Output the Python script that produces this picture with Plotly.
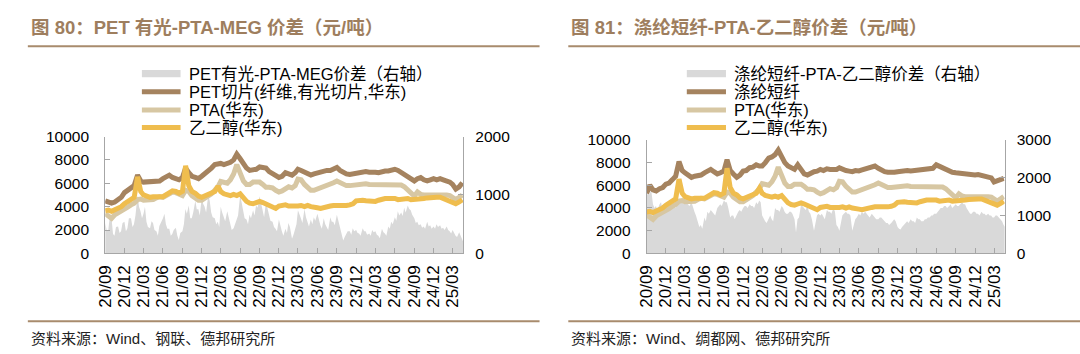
import pandas as pd
import plotly.graph_objects as go

W, H = 1080, 354

# ---------------- categories ----------------
month_anchor = pd.date_range("2020-09-25", periods=56, freq=pd.DateOffset(months=1))
# price lines: two readings per month
dates = []
for d in month_anchor:
    dates.append(d)
    dates.append(d + pd.Timedelta(days=15))
# spreads: four readings per month
dates_w = []
for d in month_anchor:
    for off in (0, 7, 14, 21):
        dates_w.append(d + pd.Timedelta(days=off))

tick_vals = list(pd.date_range("2020-09-25", periods=19, freq=pd.DateOffset(months=3)))
tick_labels = ["20/09", "20/12", "21/03", "21/06", "21/09", "21/12", "22/03", "22/06", "22/09",
               "22/12", "23/03", "23/06", "23/09", "23/12", "24/03", "24/06", "24/09", "24/12", "25/03"]

# ---------------- series values (yuan/ton) ----------------
pet_chip = [4500, 4400, 4300, 4400, 4600, 4800, 5200, 5400, 5600, 5800, 6700, 6200,
            6100, 6100, 6150, 6100, 6150, 6200, 6400, 6600, 6700, 6500, 6350, 6300,
            6500, 7300, 6900, 6600, 6500, 6400, 6600, 6800, 7100, 7300, 7600, 7700,
            7700, 7600, 7700, 7800, 8000, 8500, 8100, 7600, 7300, 7100, 7100, 7200,
            7400, 7300, 7300, 7000, 6800, 6600, 6500, 6600, 6900, 6800, 6700, 6900,
            7200, 7100, 7000, 6900, 6700, 6800, 6900, 6950, 7000, 7100, 7100, 7200,
            7350, 7100, 6900, 6800, 6750, 6800, 6900, 7000, 7050, 7000, 6950, 7000,
            6950, 6900, 7000, 7050, 7050, 7100, 7200, 7100, 6900, 6700, 6600, 6300,
            6200, 6400, 6500, 6300, 6200, 6300, 6400, 6300, 6400, 6300, 6200, 6100,
            5900, 5500, 5700, 6050]

psf = [5300, 6000, 5600, 5500, 5700, 5800, 6100, 6200, 6500, 6800, 8100, 7300,
       7100, 6900, 6700, 6800, 6850, 6900, 7100, 7200, 7400, 7200, 7000, 7100,
       7250, 8250, 7300, 7000, 6700, 6900, 7250, 7300, 7550, 7600, 7800, 7700,
       7700, 8000, 8400, 8500, 8700, 9100, 8400, 8000, 7700, 7500, 7400, 7800,
       7400, 7000, 6900, 7100, 7200, 7250, 7400, 7300, 7450, 7400, 7350, 7400,
       7540, 7400, 7300, 7250, 7200, 7300, 7260, 7350, 7450, 7550, 7600, 7700,
       7500, 7300, 7200, 7150, 7100, 7150, 7200, 7250, 7250, 7300, 7260, 7300,
       7300, 7350, 7350, 7350, 7400, 7500, 7800, 7650, 7500, 7350, 7250, 7150,
       7100, 7050, 7000, 6950, 6900, 6850, 6900, 6950, 6850, 6800, 6700, 6650,
       6300, 6400, 6450, 6600]

pta = [3400, 3200, 3000, 3300, 3450, 3550, 3750, 3950, 4150, 4300, 4600, 4650,
       4550, 4550, 4500, 4600, 4750, 4850, 4800, 4950, 5150, 5250, 5200, 5050,
       4950, 5400, 5300, 4950, 4700, 4550, 4550, 4700, 4950, 5100, 5400, 5700,
       6150, 6050, 6000, 6300, 6800, 7600, 6900, 6200, 5900, 5900, 6100, 6150,
       6100, 5900, 5650, 5650, 5600, 5400, 5250, 5350, 5550, 5700, 5600, 5800,
       6350, 6300, 5900, 5600, 5400, 5400, 5500, 5650, 5750, 5850, 5950, 6050,
       6200, 6050, 5900, 5800, 5800, 5850, 5800, 5850, 5900, 5950, 5900, 5900,
       5950, 5850, 5900, 5950, 5900, 5900, 5900, 5900, 5850, 5700, 5400, 5100,
       4900, 5250, 5050, 5000, 5000, 5100, 5000, 5050, 5100, 5000, 5000, 4950,
       4800, 4600, 4800, 5000]

meg = [3650, 3700, 3600, 3700, 3900, 4000, 4250, 4400, 4550, 4800, 6550, 5300,
       5000, 4900, 4800, 4850, 4900, 4850, 4850, 5050, 5250, 5350, 5300, 5150,
       5300, 7500, 5800, 5300, 5150, 4900, 4800, 4900, 5050, 5150, 5300, 5750,
       5300, 5100, 5050, 4950, 5050, 4950, 5100, 4750, 4450, 4300, 4250, 4350,
       4450, 4350, 4250, 4100, 3950, 3850, 4050, 4100, 4150, 4050, 4100, 4050,
       4050, 4100, 4000, 4100, 4000, 3900, 3900, 3850, 3950, 4000, 4050, 4100,
       4100, 4000, 4000, 4100, 4150, 4250, 4500, 4550, 4550, 4500, 4450, 4400,
       4450, 4550, 4650, 4700, 4700, 4750, 4700, 4600, 4650, 4750, 4700, 4600,
       4600, 4700, 4700, 4700, 4750, 4800, 4750, 4800, 4800, 4700, 4650, 4550,
       4400, 4250, 4400, 4600]

spread_pet = [520, 400, 380, 600, 600, 330, 300, 450, 460, 350, 380, 520,
              540, 380, 430, 600, 600, 450, 500, 650, 1000, 800, 720, 600,
              680, 800, 540, 450, 430, 550, 520, 400, 380, 300, 470, 520,
              600, 680, 500, 420, 420, 300, 330, 400, 440, 300, 230, 350,
              380, 500, 760, 680, 820, 600, 600, 700, 900, 750, 760, 650,
              950, 850, 800, 700, 1000, 900, 700, 620, 600, 500, 540, 450,
              800, 700, 620, 550, 720, 600, 480, 400, 430, 500, 560, 650,
              1000, 850, 720, 600, 580, 500, 660, 600, 740, 650, 820, 780,
              980, 850, 700, 620, 880, 760, 640, 560, 540, 450, 420, 380,
              580, 450, 380, 300, 420, 350, 520, 450, 250, 320, 430, 500,
              740, 650, 600, 520, 760, 620, 540, 460, 580, 500, 620, 560,
              680, 560, 480, 420, 600, 500, 460, 400, 620, 540, 540, 480,
              660, 560, 420, 360, 220, 280, 320, 380, 380, 320, 430, 380,
              400, 350, 340, 300, 430, 380, 380, 320, 340, 300, 400, 360,
              380, 320, 300, 260, 420, 360, 340, 300, 460, 420, 540, 500,
              620, 560, 720, 650, 700, 640, 780, 700, 820, 760, 740, 660,
              600, 520, 540, 480, 500, 440, 460, 420, 540, 460, 480, 420,
              460, 420, 500, 450, 480, 420, 440, 400, 460, 400, 380, 340,
              400, 340, 300, 280, 360, 300, 220, 180]

spread_psf = [1500, 1650, 1550, 1700, 1300, 1200, 1250, 1150, 1300, 1350, 1150, 1200,
              1250, 1300, 1350, 1400, 1300, 1250, 1200, 1300, 1450, 1400, 1350, 1300,
              1400, 1450, 1300, 1250, 1350, 1200, 1100, 1000, 800, 700, 750, 650,
              950, 850, 1100, 1050, 1150, 1100, 1050, 1000, 1200, 1250, 1300, 1250,
              1400, 1350, 1350, 1200, 950, 1000, 1000, 900, 1050, 1100, 1150, 1100,
              1200, 1250, 1250, 1200, 1300, 1250, 1250, 1200, 1350, 1300, 1400, 1350,
              1000, 900, 850, 800, 950, 1000, 900, 850, 1200, 1150, 1150, 1100,
              1250, 1200, 1100, 1050, 1050, 1100, 1100, 1050, 900, 550, 900, 950,
              1300, 1250, 1200, 1150, 1250, 1100, 1050, 900, 600, 850, 1000, 1050,
              1000, 1050, 950, 900, 1150, 1100, 1100, 1050, 1200, 1100, 750, 700,
              600, 800, 1000, 1050, 1100, 1050, 1050, 1000, 600, 750, 900, 950,
              1050, 1000, 1100, 1050, 1100, 1050, 1000, 950, 1050, 1000, 950, 900,
              900, 950, 950, 900, 850, 800, 800, 750, 800, 850, 900, 850,
              700, 650, 630, 700, 750, 800, 850, 800, 900, 850, 850, 800,
              950, 900, 900, 850, 850, 900, 900, 950, 950, 1000, 1000, 1050,
              1050, 1100, 1150, 1200, 1200, 1250, 1250, 1200, 1250, 1300, 1200, 1250,
              1300, 1250, 1250, 1300, 1350, 1300, 1300, 1200, 1100, 1050, 1050, 1100,
              1100, 1050, 1050, 1000, 1100, 1050, 1050, 1000, 1050, 1000, 1000, 950,
              950, 1000, 1000, 950, 900, 850, 750, 700]

legend_left = ["PET有光-PTA-MEG价差（右轴）", "PET切片(纤维,有光切片,华东)", "PTA(华东)", "乙二醇(华东)"]
legend_right = ["涤纶短纤-PTA-乙二醇价差（右轴）", "涤纶短纤", "PTA(华东)", "乙二醇(华东)"]

# ---------------- styles ----------------
FONT = "Liberation Sans, Noto Sans CJK SC, sans-serif"
C_BROWN = "#A5835F"
C_TAN = "#D7C7A3"
C_YELLOW = "#EFBD4E"
C_GRAY = "#D9D9D9"
C_AXIS = "#A6A6A6"
C_TITLE = "#9E7E5E"
C_RULE = "#A88B6D"
LW = 5


def px_x(v):
    return v / W


def px_y(v):
    return 1 - v / H


x_start = pd.Timestamp("2020-09-25")
x_end = pd.Timestamp("2025-05-14")

fig = go.Figure()


def add_chart(xa, ya_area, ya_lines, spread, main, names):
    fig.add_trace(go.Scatter(x=dates_w, y=spread, name=names[0], xaxis=xa, yaxis=ya_area,
                             mode="lines", line=dict(width=0, color=C_GRAY),
                             fill="tozeroy", fillcolor=C_GRAY, showlegend=False))
    for vals, nm, col in ((main, names[1], C_BROWN), (pta, names[2], C_TAN), (meg, names[3], C_YELLOW)):
        fig.add_trace(go.Scatter(x=dates, y=vals, name=nm, xaxis=xa, yaxis=ya_lines,
                                 mode="lines", line=dict(width=LW, color=col), showlegend=False))


add_chart("x", "y", "y2", spread_pet, pet_chip, legend_left)
add_chart("x2", "y3", "y4", spread_psf, psf, legend_right)

tickfont = dict(family=FONT, size=15.5, color="#000000")
xtickfont = dict(family=FONT, size=17, color="#000000")


def xaxis_cfg(domain, anchor):
    return dict(domain=domain, anchor=anchor, type="date", range=[x_start, x_end],
                tickvals=tick_vals, ticktext=tick_labels, tickangle=-90,
                ticks="inside", ticklen=5, tickcolor=C_AXIS, tickwidth=1,
                showline=True, linecolor=C_AXIS, linewidth=1, showgrid=False, zeroline=False,
                tickfont=xtickfont, ticklabelstandoff=4)


def yaxis_cfg(domain, anchor, side, rng, dtick, standoff, overlaying=None):
    d = dict(anchor=anchor, side=side, range=rng, dtick=dtick, tick0=0, tickformat="d",
             ticks="inside", ticklen=5, tickcolor=C_AXIS, tickwidth=1,
             showline=True, linecolor=C_AXIS, linewidth=1, showgrid=False, zeroline=False,
             tickfont=tickfont, ticklabelstandoff=standoff)
    if overlaying:
        d["overlaying"] = overlaying
    else:
        d["domain"] = domain
    return d


yl = [px_y(256.7), px_y(134)]
yr = [px_y(256.7), px_y(137.5)]

fig.update_layout(
    width=W, height=H, margin=dict(l=0, r=0, t=0, b=0),
    paper_bgcolor="white", plot_bgcolor="rgba(0,0,0,0)",
    font=dict(family=FONT, size=15, color="#000000"),
    showlegend=False,
    xaxis=xaxis_cfg([px_x(97), px_x(458)], "y"),
    yaxis=yaxis_cfg(yl, "x", "right", [0, 2000], 1000, 8),
    yaxis2=yaxis_cfg(None, "x", "left", [0, 10000], 2000, 12, overlaying="y"),
    xaxis2=xaxis_cfg([px_x(643), px_x(1004)], "y3"),
    yaxis3=yaxis_cfg(yr, "x2", "right", [0, 3000], 1000, 8),
    yaxis4=yaxis_cfg(None, "x2", "left", [0, 10000], 2000, 12, overlaying="y3"),
)

# ---------------- manual legends ----------------
rows_y = [68, 87, 106, 124.5]
legend_specs = [((134, 173, 179), legend_left), ((683.5, 723, 729), legend_right)]
for (sx0, sx1, tx), names in legend_specs:
    for i, (nm, yy) in enumerate(zip(names, rows_y)):
        if i == 0:
            fig.add_shape(type="rect", xref="paper", yref="paper",
                          x0=px_x(sx0), x1=px_x(sx1), y0=px_y(yy - 3.8), y1=px_y(yy + 3.8),
                          fillcolor=C_GRAY, line=dict(width=0))
        else:
            col = [C_BROWN, C_TAN, C_YELLOW][i - 1]
            fig.add_shape(type="line", xref="paper", yref="paper",
                          x0=px_x(sx0), x1=px_x(sx1), y0=px_y(yy), y1=px_y(yy),
                          line=dict(color=col, width=LW))
        fig.add_annotation(x=px_x(tx), y=px_y(yy), xref="paper", yref="paper",
                           xanchor="left", yanchor="middle", showarrow=False,
                           text=nm, font=dict(family=FONT, size=16.5, color="#000000"))

# ---------------- titles, rules, sources ----------------
titles = [(20, "图 80：PET 有光-PTA-MEG 价差（元/吨）"),
          (565, "图 81：涤纶短纤-PTA-乙二醇价差（元/吨）")]
sources = [(20, "资料来源：Wind、钢联、德邦研究所"),
           (565, "资料来源：Wind、绸都网、德邦研究所")]
rules = [(19, 535), (564, 1080)]

for x0, t in titles:
    fig.add_annotation(x=px_x(x0), y=px_y(19.5), xref="paper", yref="paper",
                       xanchor="left", yanchor="middle", showarrow=False,
                       text="<b>" + t + "</b>", font=dict(family=FONT, size=18.5, color=C_TITLE))
for x0, t in sources:
    fig.add_annotation(x=px_x(x0), y=px_y(346), xref="paper", yref="paper",
                       xanchor="left", yanchor="middle", showarrow=False,
                       text=t, font=dict(family=FONT, size=15, color="#222222"))
for a, b in rules:
    for yy in (39, 328):
        fig.add_shape(type="line", xref="paper", yref="paper",
                      x0=px_x(a), x1=px_x(b), y0=px_y(yy), y1=px_y(yy),
                      line=dict(color=C_RULE, width=2))

fig.write_html("out.html")
